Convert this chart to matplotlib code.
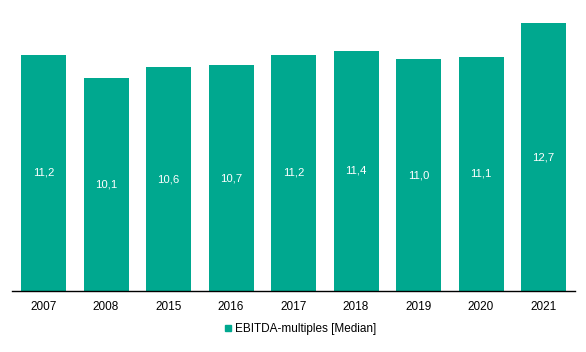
import matplotlib
matplotlib.use("Agg")
import matplotlib.pyplot as plt
from matplotlib.lines import Line2D

plt.rcParams['font.family'] = ['Liberation Sans', 'DejaVu Sans']

years = ["2007", "2008", "2015", "2016", "2017", "2018", "2019", "2020", "2021"]
values = [11.2, 10.1, 10.6, 10.7, 11.2, 11.4, 11.0, 11.1, 12.7]
series_name = "EBITDA-multiples [Median]"
color = "#00A88F"

W, H = 586, 352
fig = plt.figure(figsize=(W / 100, H / 100), dpi=100)
ax = fig.add_axes([12.25 / W, 1 - 291 / H, 562.5 / W, 291 / H])

x = list(range(len(years)))
bars = ax.bar(x, values, width=0.72, color=color, zorder=2)
for xi, v in zip(x, values):
    ax.text(xi, v / 2, f"{v:.1f}".replace(".", ","), ha="center", va="center",
            color="white", fontsize=8.2)

ax.set_xlim(-0.5, len(years) - 0.5)
ax.set_ylim(0, 13.8)
ax.set_xticks(x)
ax.set_xticklabels(years, fontsize=8.5)
ax.tick_params(axis="x", length=0, pad=7)
ax.set_yticks([])
for s in ["top", "right", "left"]:
    ax.spines[s].set_visible(False)
ax.spines["bottom"].set_color("black")
ax.spines["bottom"].set_linewidth(1)

handle = Line2D([], [], marker="s", linestyle="none", markersize=5,
                markerfacecolor=color, markeredgecolor=color)
fig.legend([handle], [series_name], loc="center", bbox_to_anchor=(0.511, 1 - 329 / H),
           frameon=False, fontsize=8.5, handletextpad=0.1, handlelength=1.0)

fig.savefig("out.png", dpi=100)
